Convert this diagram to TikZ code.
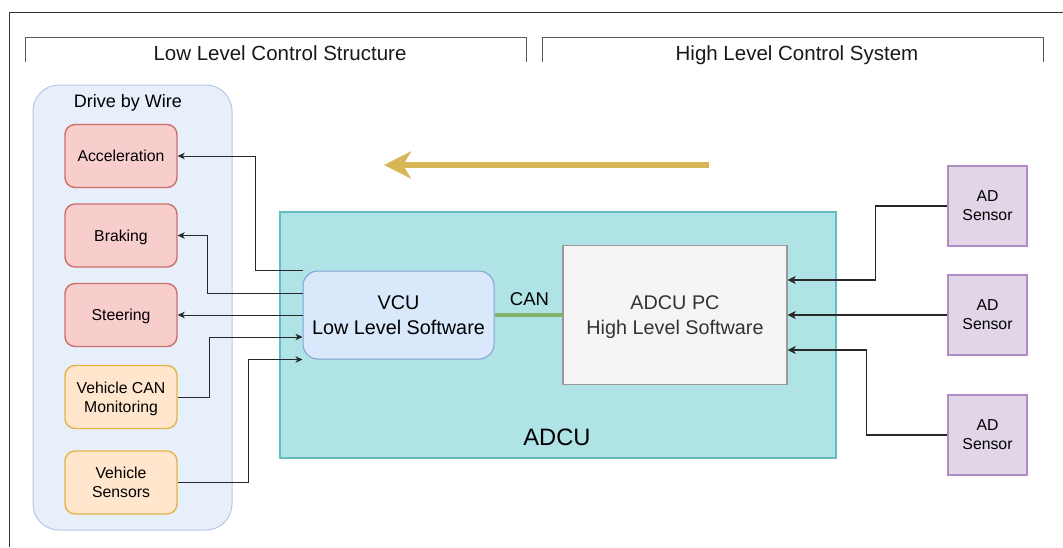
\documentclass[tikz,border=0pt]{standalone}
\usepackage{fontspec}
\setmainfont{Liberation Sans}
\usetikzlibrary{arrows.meta}
\definecolor{palered}{RGB}{248,206,204}
\definecolor{darkred}{RGB}{205,110,106}
\definecolor{palepeach}{RGB}{255,230,204}
\definecolor{darkgold}{RGB}{228,180,70}
\definecolor{paleteal}{RGB}{176,227,230}
\definecolor{darkteal}{RGB}{100,188,192}
\definecolor{paleblue}{RGB}{218,232,252}
\definecolor{darkblue}{RGB}{130,160,210}
\definecolor{groupfill}{RGB}{231,239,251}
\definecolor{groupline}{RGB}{180,200,232}
\definecolor{palegray}{RGB}{245,245,245}
\definecolor{midgray}{RGB}{153,153,153}
\definecolor{textgray}{RGB}{51,51,51}
\definecolor{palepurple}{RGB}{225,213,231}
\definecolor{darkpurple}{RGB}{175,140,195}
\definecolor{cangreen}{RGB}{130,179,102}
\definecolor{flowgold}{RGB}{214,182,86}
\definecolor{wiregray}{RGB}{40,40,40}
\tikzset{
  groupbox/.style={rectangle, rounded corners=26pt, draw=groupline, fill=groupfill,
                   line width=1pt, minimum width=199pt, minimum height=445pt, inner sep=0pt},
  actbox/.style={rectangle, rounded corners=10pt, draw=darkred, fill=palered,
                 line width=1.4pt, minimum width=112pt, minimum height=63pt, text depth=0pt,
                 font=\fontsize{15.8}{19}\selectfont, align=center, inner sep=0pt},
  inbox/.style={actbox, draw=darkgold, fill=palepeach},
  adcubox/.style={rectangle, draw=darkteal, fill=paleteal, line width=1.3pt,
                  minimum width=556pt, minimum height=246pt, inner sep=0pt},
  vcubox/.style={rectangle, rounded corners=15pt, draw=darkblue, fill=paleblue,
                 line width=1pt, minimum width=191pt, minimum height=88pt, text depth=-3pt,
                 font=\fontsize{19.8}{24.3}\selectfont, align=center, inner sep=0pt},
  pcbox/.style={rectangle, draw=midgray, fill=palegray, text=textgray,
                line width=1.3pt, minimum width=224pt, minimum height=139pt, text depth=-6pt,
                font=\fontsize{19.8}{24.3}\selectfont, align=center, inner sep=0pt},
  sensorbox/.style={rectangle, draw=darkpurple, fill=palepurple, line width=1.2pt,
                    minimum width=79pt, minimum height=80pt, text depth=-4pt,
                    font=\fontsize{15.8}{19}\selectfont, align=center, inner sep=0pt},
  headtitle/.style={font=\fontsize{20.5}{24}\selectfont, text=black!90, text depth=0pt},
  wire/.style={draw=wiregray, line width=0.9pt, -{Stealth[length=7pt,width=6.5pt,inset=2pt]}},
  sensorwire/.style={draw=wiregray, line width=1.6pt, -{Stealth[length=8pt,width=8pt,inset=2pt]}},
  canlink/.style={draw=cangreen, line width=3.5pt},
  flowarrow/.style={draw=flowgold, line width=6.5pt, -{Stealth[length=27pt,width=27pt,inset=8pt]}},
  bracketline/.style={draw=black!65, line width=1pt}
}

\begin{document}
\begin{tikzpicture}[x=1pt, y=-1pt]
  \useasboundingbox (0,0) rectangle (1063,547);
  \draw[black!80, line width=1.3pt] (1063,12.5) -- (9.5,12.5) -- (9.5,547);

  \draw[bracketline] (25,62) |- (526,37) -- (526,62);
  \node[headtitle] (lowtitle) at (280,53) {Low Level Control Structure};
  \draw[bracketline] (542,62) |- (1043,37) -- (1043,62);
  \node[headtitle] (hightitle) at (797,53) {High Level Control System};

  \node[groupbox] (dbw) at (132.5,307.5) {};
  \node[font=\fontsize{18}{22}\selectfont, text depth=0pt] (dbwtitle) at (128,101) {Drive by Wire};

  \node[actbox] (acc) at (121,156) {Acceleration};
  \node[actbox] (brk) at (121,235.5) {Braking};
  \node[actbox] (str) at (121,315) {Steering};
  \node[inbox] (canmon) at (121,397) {Vehicle CAN\\Monitoring};
  \node[inbox] (vehsens) at (121,482.5) {Vehicle\\Sensors};

  \node[adcubox] (adcu) at (558,335) {};
  \node[font=\fontsize{23.7}{28}\selectfont] (adculabel) at (557,437) {ADCU};
  \node[vcubox] (vcu) at (398.5,315) {VCU\\Low Level Software};
  \node[pcbox] (pc) at (675,315) {ADCU PC\\High Level Software};

  \foreach \name/\y in {ad1/206, ad2/315, ad3/435} {
    \node[sensorbox] (\name) at (987.5,\y) {AD\\Sensor};
  }

  \coordinate (flowtail) at (709,165);
  \coordinate (flowhead) at (384,165);
  \draw[flowarrow] (flowtail) -- (flowhead);

  \draw[canlink] (vcu.east) -- (pc.west);
  \node[font=\fontsize{18.5}{22}\selectfont] (canlabel) at (529.5,299) {CAN};

  \draw[wire] (vcu.north west) -- ++(-47,0) |- (acc.east);
  \draw[wire] ([yshift=22pt]vcu.west) -- ++(-95,0) |- (brk.east);
  \draw[wire] (vcu.west) -- (str.east);
  \draw[wire] (canmon.east) -- ++(32,0) |- ([yshift=-22pt]vcu.west);
  \draw[wire] (vehsens.east) -- ++(71,0) |- (vcu.south west);

  \draw[sensorwire] (ad1.west) -- ++(-72,0) |- ([yshift=35pt]pc.east);
  \draw[sensorwire] (ad2.west) -- (pc.east);
  \draw[sensorwire] (ad3.west) -- ++(-81,0) |- ([yshift=-35pt]pc.east);
\end{tikzpicture}
\end{document}
